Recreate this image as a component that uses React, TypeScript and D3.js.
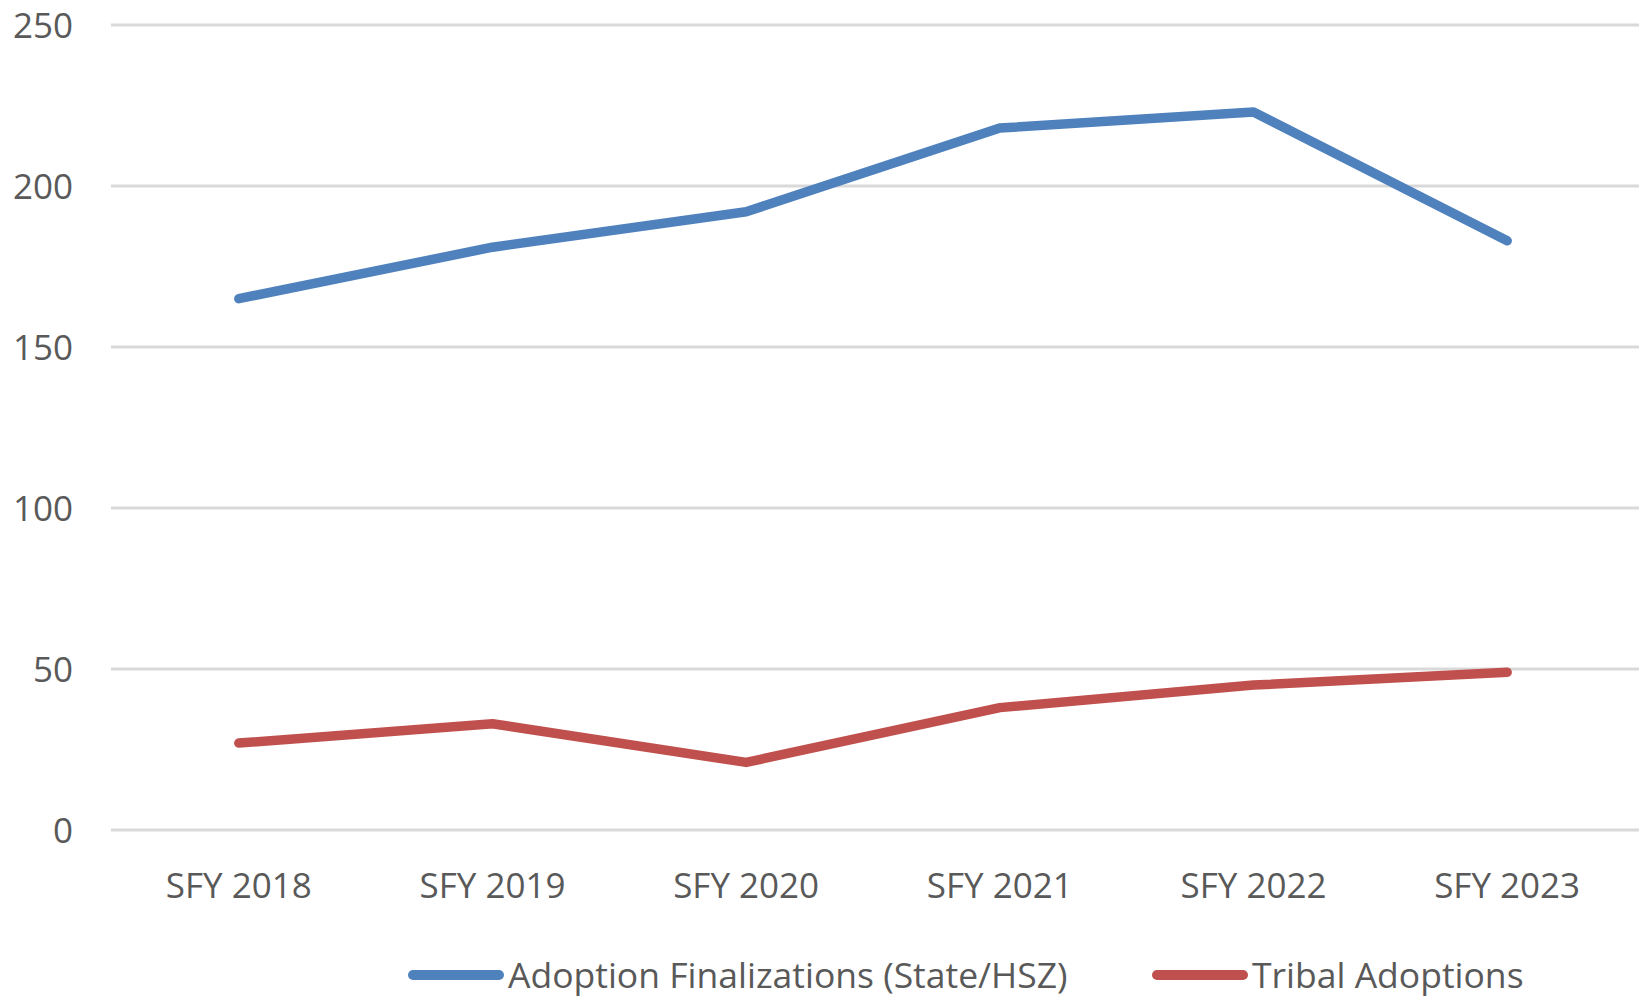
import React, { useRef, useEffect } from 'react';
import * as d3 from 'd3';

const categories = ['SFY 2018', 'SFY 2019', 'SFY 2020', 'SFY 2021', 'SFY 2022', 'SFY 2023'];
const adoptionFinalizations = [165, 181, 192, 218, 223, 183];
const tribalAdoptions = [27, 33, 21, 38, 45, 49];
const yTicks = [0, 50, 100, 150, 200, 250];
const seriesNames = ['Adoption Finalizations (State/HSZ)', 'Tribal Adoptions'];
const seriesColors = ['#4F81BD', '#C0504D'];

const W = 1639;
const H = 1000;

const App = () => {
    const ref = useRef<SVGSVGElement>(null);

    useEffect(() => {
        const svg = d3.select(ref.current);
        svg.selectAll('*').remove();

        const font = '"Open Sans", "Noto Sans", sans-serif';
        const textColor = '#595959';

        // plot area
        const x = d3.scaleBand<string>()
            .domain(categories)
            .range([112, 1634]);
        const y = d3.scaleLinear()
            .domain([0, 250])
            .range([830, 25]);

        // gridlines
        svg.append('g')
            .selectAll('line')
            .data(yTicks)
            .enter().append('line')
            .attr('x1', 111)
            .attr('x2', W)
            .attr('y1', d => y(d))
            .attr('y2', d => y(d))
            .attr('stroke', '#D9D9D9')
            .attr('stroke-width', 3);

        // y tick labels
        svg.append('g')
            .selectAll('text')
            .data(yTicks)
            .enter().append('text')
            .attr('x', 73)
            .attr('y', d => y(d))
            .attr('dy', '0.36em')
            .attr('text-anchor', 'end')
            .style('font-family', font)
            .style('font-size', '35px')
            .attr('fill', textColor)
            .text(d => d);

        // x tick labels
        svg.append('g')
            .selectAll('text')
            .data(categories)
            .enter().append('text')
            .attr('x', d => (x(d) as number) + x.bandwidth() / 2)
            .attr('y', 885)
            .attr('dy', '0.36em')
            .attr('text-anchor', 'middle')
            .style('font-family', font)
            .style('font-size', '35px')
            .attr('fill', textColor)
            .text(d => d);

        const line = d3.line<number>()
            .x((_, i) => (x(categories[i]) as number) + x.bandwidth() / 2)
            .y(d => y(d));

        [adoptionFinalizations, tribalAdoptions].forEach((series, i) => {
            svg.append('path')
                .datum(series)
                .attr('d', line)
                .attr('fill', 'none')
                .attr('stroke', seriesColors[i])
                .attr('stroke-width', 9.5)
                .attr('stroke-linecap', 'round')
                .attr('stroke-linejoin', 'round');
        });

        // legend
        const legendX = [409, 1153];
        const legendY = 975;
        const legend = svg.selectAll('.legend').data(seriesNames)
            .enter().append('g')
            .attr('class', 'legend')
            .attr('transform', (_, i) => 'translate(' + legendX[i] + ',' + legendY + ')');

        legend.append('line')
            .attr('x1', 4).attr('x2', 90)
            .attr('y1', 0).attr('y2', 0)
            .attr('stroke', (_, i) => seriesColors[i])
            .attr('stroke-width', 10)
            .attr('stroke-linecap', 'round');

        legend.append('text')
            .attr('x', 99)
            .attr('y', 0)
            .attr('dy', '0.36em')
            .style('font-family', font)
            .style('font-size', '35.5px')
            .attr('fill', textColor)
            .text(d => d);
    }, []);

    return (
        <svg ref={ref} width={W} height={H} style={{ position: 'absolute', left: 0, top: 0, background: '#fff' }}></svg>
    );
};

export default App;
